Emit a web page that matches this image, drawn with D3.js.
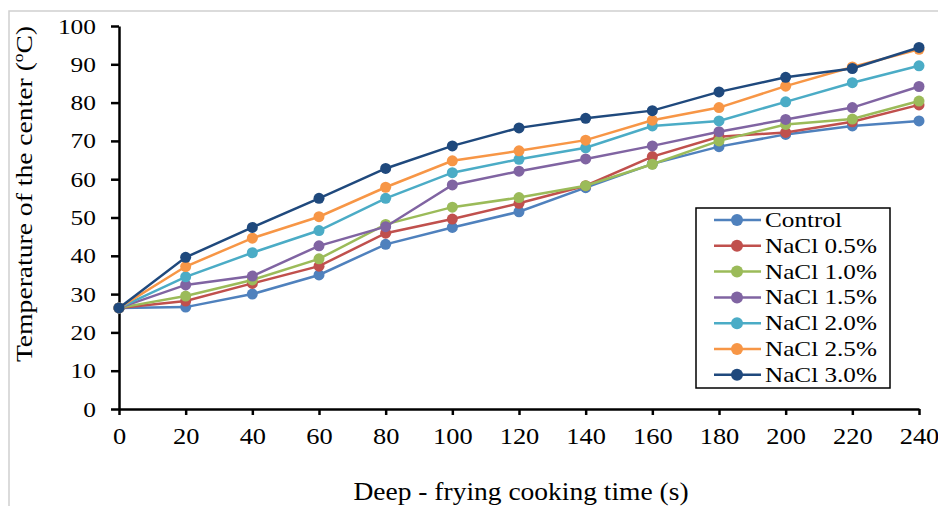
<!DOCTYPE html>
<html>
<head>
<meta charset="utf-8">
<script src="https://cdn.jsdelivr.net/npm/d3@7"></script>
<style>
  body { margin: 0; background: #fff; }
  text { font-family: "Liberation Serif", "Times New Roman", serif; fill: #000; }
  .axis path, .axis line { stroke: #000; stroke-width: 2.5; }
</style>
</head>
<body>
<div id="chart"></div>
<script>
/* DATA */
const times = [0, 20, 40, 60, 80, 100, 120, 140, 160, 180, 200, 220, 240];
const seriesNames = ["Control", "NaCl 0.5%", "NaCl 1.0%", "NaCl 1.5%", "NaCl 2.0%", "NaCl 2.5%", "NaCl 3.0%"];
const control = [26.4, 26.6, 30.0, 35.0, 43.0, 47.4, 51.5, 57.8, 64.0, 68.5, 71.7, 73.9, 75.2];
const nacl05 = [26.4, 28.2, 32.8, 37.3, 45.9, 49.6, 53.7, 58.3, 65.9, 71.1, 72.2, 75.0, 79.4];
const nacl10 = [26.4, 29.5, 33.7, 39.2, 48.2, 52.7, 55.2, 58.3, 63.9, 70.0, 74.3, 75.7, 80.4];
const nacl15 = [26.4, 32.4, 34.7, 42.6, 47.6, 58.5, 62.1, 65.3, 68.7, 72.4, 75.6, 78.7, 84.2];
const nacl20 = [26.4, 34.5, 40.8, 46.6, 55.0, 61.7, 65.2, 68.2, 73.9, 75.2, 80.2, 85.2, 89.6];
const nacl25 = [26.4, 37.2, 44.6, 50.2, 57.9, 64.8, 67.4, 70.2, 75.4, 78.7, 84.3, 89.3, 93.9];
const nacl30 = [26.4, 39.6, 47.4, 55.0, 62.8, 68.7, 73.4, 75.9, 77.9, 82.8, 86.6, 88.9, 94.4];
const xTicks = [0, 20, 40, 60, 80, 100, 120, 140, 160, 180, 200, 220, 240];
const yTicks = [0, 10, 20, 30, 40, 50, 60, 70, 80, 90, 100];

const colors = ["#4F81BD", "#C0504D", "#9BBB59", "#8064A2", "#4BACC6", "#F79646", "#1F497D"];
const allValues = [control, nacl05, nacl10, nacl15, nacl20, nacl25, nacl30];

const series = seriesNames.map((name, i) => ({
  name: name,
  color: colors[i],
  values: times.map((t, j) => ({ t: t, v: allValues[i][j] }))
}));

/* LAYOUT */
const width = 938,
  height = 506,
  margin = { top: 26, right: 19, bottom: 97, left: 119 },
  radius = 5.5;

const svg = d3.select("#chart")
  .append("svg")
  .attr("width", width)
  .attr("height", height);

// light frame of the chart area
svg.append("rect")
  .attr("x", 9)
  .attr("y", 11)
  .attr("width", width + 20)
  .attr("height", height + 20)
  .attr("fill", "none")
  .attr("stroke", "#cfcfcf")
  .attr("stroke-width", 1.5);

const xScale = d3.scaleLinear()
  .domain([0, 240])
  .range([margin.left, width - margin.right]);

const yScale = d3.scaleLinear()
  .domain([0, 100])
  .range([height - margin.bottom, margin.top]);

/* AXES */
const yAxis = d3.axisLeft(yScale).tickValues(yTicks).tickSize(8).tickSizeOuter(0);
const yG = svg.append("g")
  .attr("class", "axis y-axis")
  .attr("transform", `translate(${margin.left},0)`)
  .call(yAxis);
yG.selectAll("text")
  .attr("x", 0)
  .attr("dy", "0.35em")
  .attr("font-size", 20)
  .attr("text-anchor", "end")
  .attr("transform", "translate(-23,0) scale(1.27,1)");

const xAxis = d3.axisBottom(xScale).tickValues(xTicks).tickSize(6).tickSizeOuter(0);
const xG = svg.append("g")
  .attr("class", "axis x-axis")
  .attr("transform", `translate(0,${height - margin.bottom})`)
  .call(xAxis);
xG.selectAll("text")
  .attr("x", 0)
  .attr("y", 35)
  .attr("dy", 0)
  .attr("font-size", 23)
  .attr("transform", "scale(1.15,1)");

// axis titles
svg.append("text")
  .attr("text-anchor", "middle")
  .attr("font-size", 25)
  .attr("transform", "translate(521,500) scale(1.1,1)")
  .text("Deep - frying cooking time (s)");

const yTitle = svg.append("text")
  .attr("text-anchor", "middle")
  .attr("font-size", 24)
  .attr("transform", "translate(32,194) rotate(-90) scale(1.15,1)");
yTitle.append("tspan").text("Temperature of the center (");
yTitle.append("tspan").attr("font-size", 15).attr("dy", -9).text("o");
yTitle.append("tspan").attr("dy", 9).text("C)");

/* LINES AND POINTS */
const lineFunc = d3.line()
  .x(d => xScale(d.t))
  .y(d => yScale(d.v));

const groups = svg.selectAll("g.series")
  .data(series)
  .join("g")
  .attr("class", "series");

groups.append("path")
  .attr("d", d => lineFunc(d.values))
  .attr("fill", "none")
  .attr("stroke", d => d.color)
  .attr("stroke-width", 2.5);

groups.selectAll("circle")
  .data(d => d.values.map(p => ({ ...p, color: d.color })))
  .join("circle")
  .attr("cx", d => xScale(d.t))
  .attr("cy", d => yScale(d.v))
  .attr("r", radius)
  .attr("fill", d => d.color);

/* LEGEND */
const legend = svg.append("g").attr("class", "legend");
legend.append("rect")
  .attr("x", 696)
  .attr("y", 208)
  .attr("width", 194)
  .attr("height", 180)
  .attr("fill", "#fff")
  .attr("stroke", "#000")
  .attr("stroke-width", 1.5);

const items = legend.selectAll("g.item")
  .data(series)
  .join("g")
  .attr("class", "item")
  .attr("transform", (d, i) => `translate(0,${220 + i * 25.8})`);

items.append("line")
  .attr("x1", 714)
  .attr("x2", 761)
  .attr("stroke", d => d.color)
  .attr("stroke-width", 2.5);

items.append("circle")
  .attr("cx", 737)
  .attr("r", 6)
  .attr("fill", d => d.color);

items.append("text")
  .attr("font-size", 21)
  .attr("dy", 7)
  .attr("transform", "translate(765,0) scale(1.2,1)")
  .text(d => d.name);
</script>
</body>
</html>
